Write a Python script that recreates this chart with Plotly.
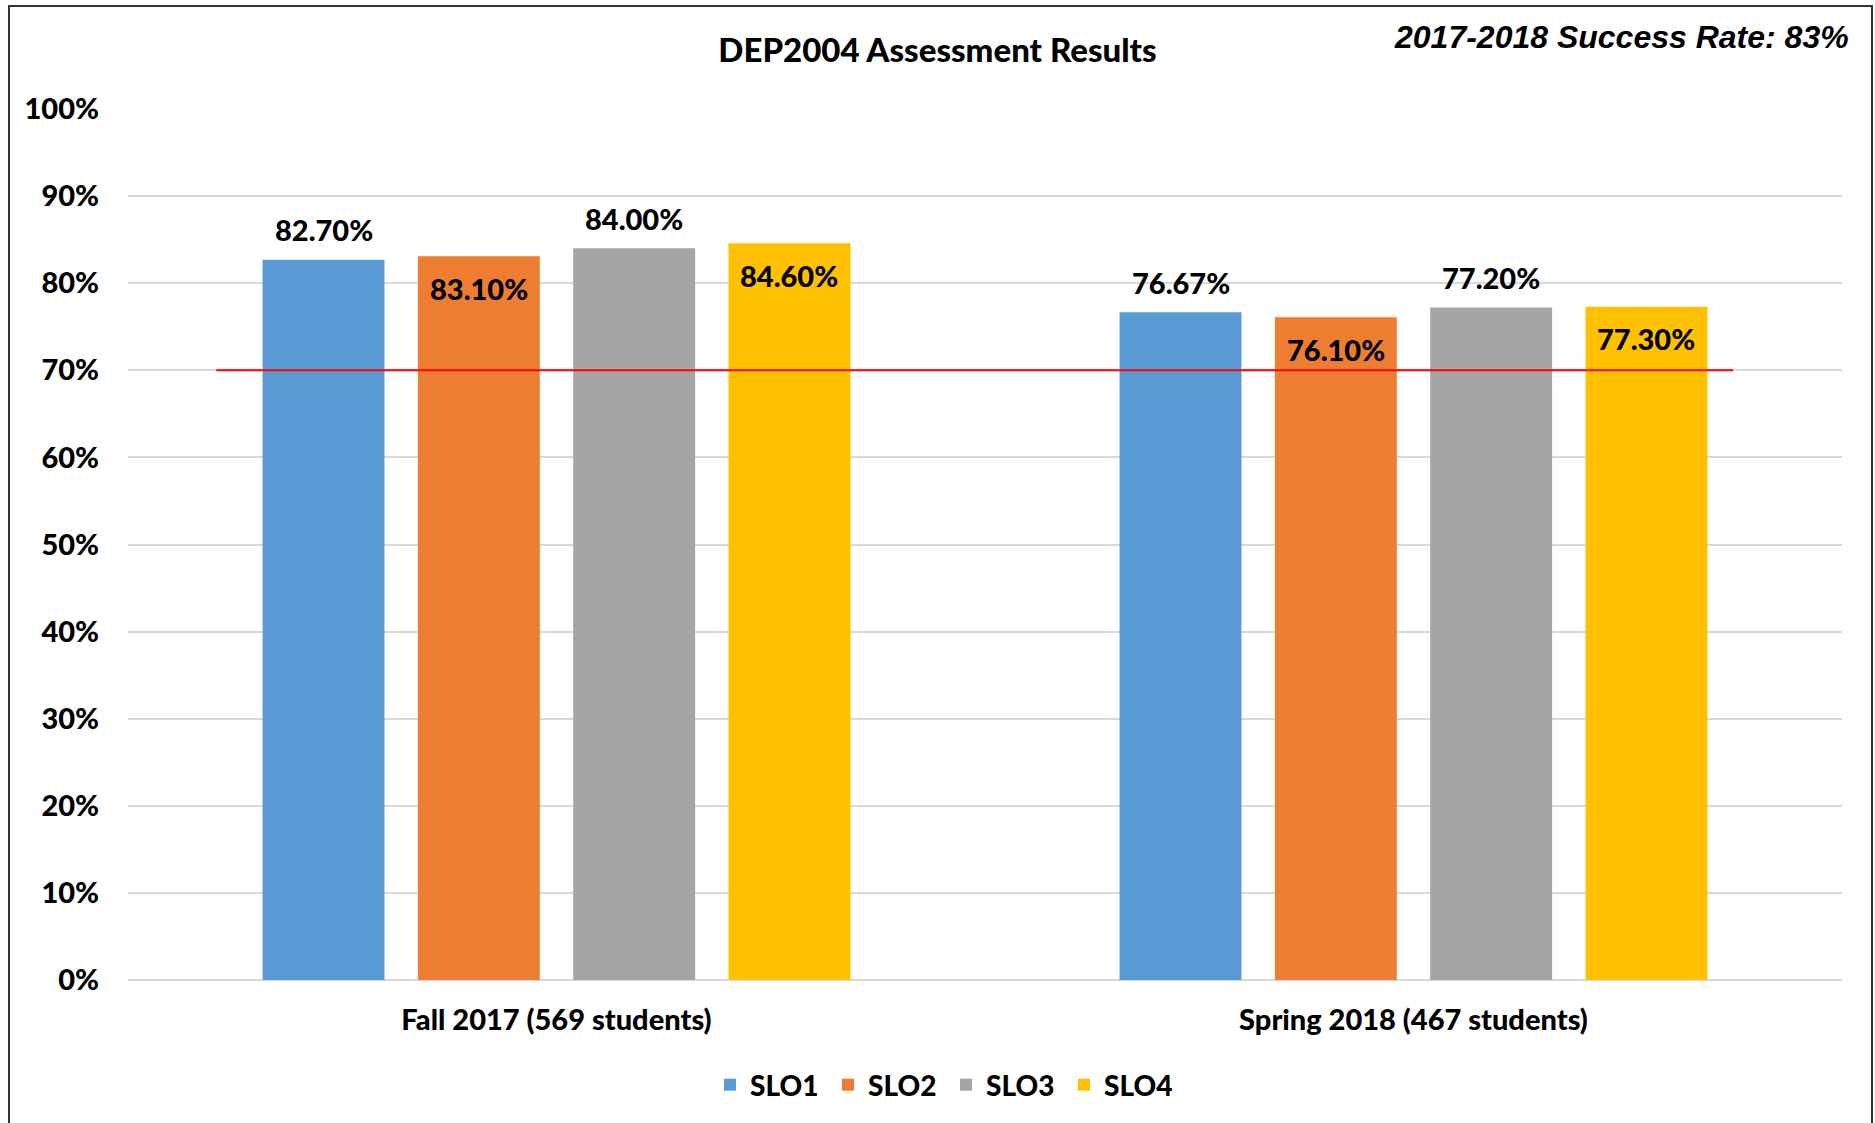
import plotly.graph_objects as go

# values
terms = ["Fall 2017 (569 students)", "Spring 2018 (467 students)"]
slos = ["SLO1", "SLO2", "SLO3", "SLO4"]
slo1 = [0.827, 0.7667]
slo2 = [0.831, 0.761]
slo3 = [0.840, 0.772]
slo4 = [0.846, 0.773]
values = [slo1, slo2, slo3, slo4]
label_side = ["above", "inside", "above", "inside"]
colors = ["#5B9BD5", "#ED7D31", "#A5A5A5", "#FFC000"]
target = 0.70
y_ticks = [0, 0.1, 0.2, 0.3, 0.4, 0.5, 0.6, 0.7, 0.8, 0.9, 1.0]

FONT = "Lato, Calibri, sans-serif"
W, H = 1875, 1123
ML, MR, MT, MB = 128, 33, 109, 143
BARGAP = 0.275

fig = go.Figure()
for name, vals, col in zip(slos, values, colors):
    fig.add_trace(go.Bar(x=terms, y=vals, name=name, marker_color=col,
                         marker_line_width=0))

# data labels, placed at each bar's slot inside its group
plot_w = W - ML - MR
plot_h = H - MT - MB
slot = plot_w / len(terms) * (1 - BARGAP) / len(slos)
for i, (vals, side) in enumerate(zip(values, label_side)):
    for term, v in zip(terms, vals):
        fig.add_annotation(x=term, y=v, text="%.2f%%" % (v * 100),
                           showarrow=False, xshift=(i - 1.5) * slot,
                           yshift=30 if side == "above" else -32,
                           font=dict(family=FONT, size=29, color="black",
                                     weight=900))

# target line
fig.add_shape(type="line", xref="x", yref="y", x0=-0.397, x1=1.373,
              y0=target, y1=target, line=dict(color="#FF0000", width=2),
              layer="above")

# chart border (bottom edge sits below the page)
fig.add_shape(type="rect", xref="paper", yref="paper",
              x0=(9 - ML) / plot_w, x1=(1872 - ML) / plot_w,
              y0=(H - MB - 1135) / plot_h, y1=(H - MB - 6) / plot_h,
              line=dict(color="#333333", width=2))

fig.add_annotation(xref="paper", yref="paper", x=(1851 - ML) / plot_w,
                   y=(H - MB - 37) / plot_h, xanchor="right",
                   yanchor="middle", showarrow=False,
                   text="<b><i>2017-2018 Success Rate: 83%</i></b>",
                   font=dict(family="Liberation Sans, Arial, sans-serif",
                             size=32, color="black"))

fig.update_layout(
    width=W, height=H,
    margin=dict(l=ML, r=MR, t=MT, b=MB),
    paper_bgcolor="white", plot_bgcolor="white",
    barmode="group", bargap=BARGAP, bargroupgap=0.215,
    title=dict(text="DEP2004 Assessment Results", x=0.5, xref="container",
               y=1 - 50 / H, yanchor="middle", xanchor="center",
               font=dict(family=FONT, size=33, color="black", weight=900)),
    font=dict(family=FONT, size=29, color="black", weight=900),
    showlegend=True,
    legend=dict(orientation="h", x=(946 - ML) / plot_w, xanchor="center",
                y=(H - MB - 1085) / plot_h, yanchor="middle",
                font=dict(family=FONT, size=28, color="black", weight=900),
                itemwidth=30, entrywidth=73, traceorder="normal"),
)
fig.update_xaxes(showgrid=False, showline=False, ticks="",
                 ticklabelstandoff=20,
                 tickfont=dict(family=FONT, size=29, weight=900))
fig.update_yaxes(range=[0, 1], tickvals=y_ticks, tickformat=".0%",
                 showgrid=True, gridcolor="#D9D9D9", gridwidth=2,
                 zeroline=True, zerolinecolor="#D9D9D9", zerolinewidth=2,
                 showline=False, ticks="", ticklabelstandoff=28,
                 tickfont=dict(family=FONT, size=29, weight=900))

fig.write_html("out.html", config={"displayModeBar": False},
               post_script="document.body.style.margin='0px';")
